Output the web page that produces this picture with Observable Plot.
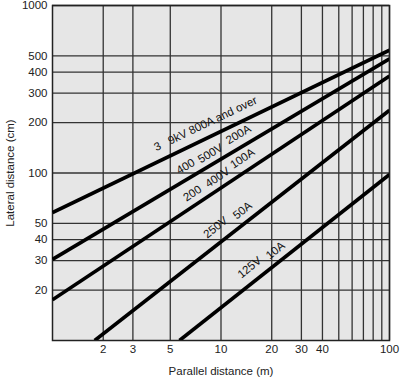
<!DOCTYPE html>
<html>
<head>
<meta charset="utf-8">
<script src="https://cdn.jsdelivr.net/npm/d3@7"></script>
<script src="https://cdn.jsdelivr.net/npm/@observablehq/plot@0.6"></script>
<style>
  html, body { margin: 0; padding: 0; background: #fff; }
  svg { font-family: "Liberation Sans", Arial, Helvetica, sans-serif; }
</style>
</head>
<body>
<div id="chart"></div>
<script>
// Series: endpoints of each straight (log-log) line
const seriesNames = ["3-9kV 800A and over", "400-500V 200A", "200-400V 100A", "250V 50A", "125V 10A"];
const startX = [1, 1, 1, 1.78, 5.67];
const startY = [58, 30.5, 17.5, 10, 10];
const endX   = [100, 100, 100, 100, 100];
const endY   = [541, 480, 380, 237, 98];

// Tick values
const xTicks = [2, 3, 5, 10, 20, 30, 40, 100];
const xGrid  = [2, 3, 5, 10, 20, 30, 40, 50, 60, 70, 80, 90, 100];
const yTicks = [20, 30, 40, 50, 100, 200, 300, 400, 500, 1000];

// Label pieces on the lines (series index, text, data position)
const labelSeries = [0, 0, 1, 1, 1, 2, 2, 2, 3, 3, 4, 4];
const labelText   = ["3", "9kV 800A and over", "400", "500V", "200A", "200", "400V", "100A", "250V", "50A", "125V", "10A"];
const labelX      = [4.2, 8.9, 6.16, 8.66, 12.7, 6.77, 9.53, 13.41, 9.28, 13.41, 14.76, 21.06];
const labelY      = [143.9, 205.8, 109.3, 130.8, 169.8, 75.5, 94.0, 122.1, 47.3, 59.7, 27.3, 34.5];

// style: rotation per series (degrees)
const seriesAngle = [-25.5, -30.8, -34, -38.2, -39];

const lineData = seriesNames.flatMap((s, i) => [
  {series: s, x: startX[i], y: startY[i]},
  {series: s, x: endX[i], y: endY[i]}
]);
const labels = labelText.map((t, i) => ({
  text: t, x: labelX[i], y: labelY[i], angle: seriesAngle[labelSeries[i]]
}));

const chart = Plot.plot({
  width: 404,
  height: 382,
  marginLeft: 52,
  marginRight: 15,
  marginTop: 5,
  marginBottom: 42,
  style: {fontFamily: "'Liberation Sans', Arial, sans-serif", fontSize: "11px", background: "#fff", color: "#222"},
  x: {type: "log", domain: [1, 100]},
  y: {type: "log", domain: [10, 1000]},
  marks: [
    Plot.frame({fill: "#e6e6e6", stroke: null}),
    Plot.ruleX(xGrid, {stroke: "#333", strokeWidth: 1.3}),
    Plot.ruleY(yTicks, {stroke: "#333", strokeWidth: 1.3}),
    Plot.frame({stroke: "#222", strokeWidth: 1.5}),
    Plot.line(lineData, {x: "x", y: "y", z: "series", stroke: "#000", strokeWidth: 3.6, strokeLinecap: "butt", clip: true}),
    Plot.text(labels, {x: "x", y: "y", text: "text", rotate: "angle", fill: "#111", fontSize: 11.5}),
    Plot.axisX({ticks: xTicks, tickSize: 0, tickPadding: 4, tickFormat: d => String(d), fontSize: 11.5,
      label: "Parallel distance (m)", labelAnchor: "center", labelOffset: 34, labelArrow: "none"}),
    Plot.axisY({ticks: yTicks, tickSize: 0, tickPadding: 5, tickFormat: d => String(d), fontSize: 11.5,
      label: "Lateral distance (cm)", labelAnchor: "center", labelOffset: 47, labelArrow: "none"})
  ]
});
document.getElementById("chart").appendChild(chart);
</script>
</body>
</html>
